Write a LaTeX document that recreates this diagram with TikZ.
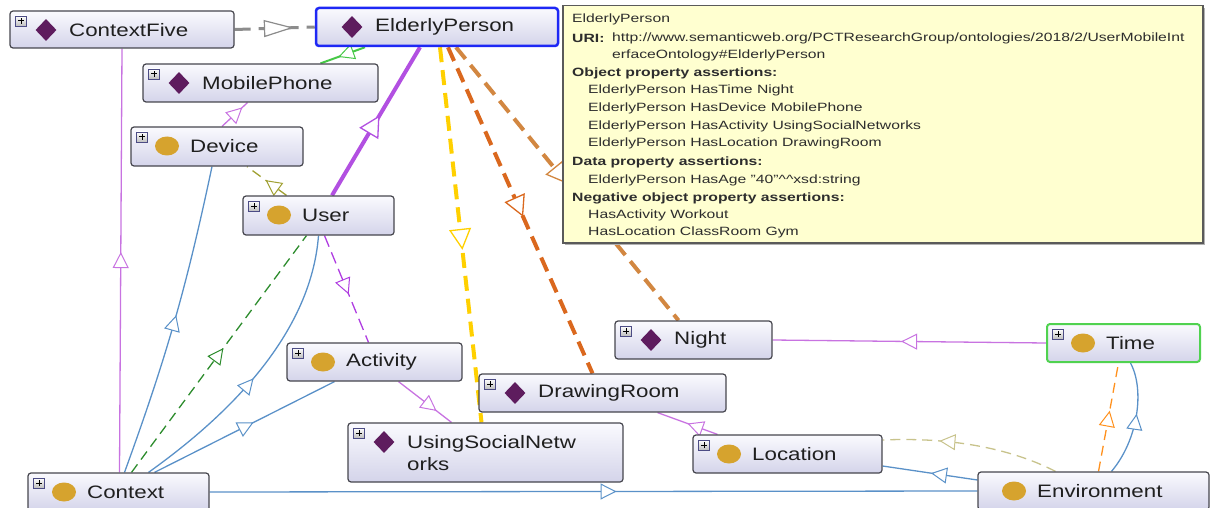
\documentclass[tikz,border=0pt]{standalone}
\usepackage{fontspec}
\setmainfont{Liberation Sans}
\usepackage{graphicx}
\usetikzlibrary{arrows.meta,shapes.geometric,decorations.markings,backgrounds}

% palette
\definecolor{nodeTop}{RGB}{250,250,254}
\definecolor{nodeBot}{RGB}{212,212,234}
\definecolor{nodeBorder}{RGB}{70,70,78}
\definecolor{diaPurple}{RGB}{94,28,94}
\definecolor{dotGold}{RGB}{214,163,46}
\definecolor{epBlue}{RGB}{30,40,245}
\definecolor{timeGreen}{RGB}{80,210,80}
\definecolor{tipYellow}{RGB}{255,255,208}
\definecolor{tipBorder}{RGB}{90,90,90}
\definecolor{tipText}{RGB}{45,45,45}
\definecolor{linkGray}{RGB}{140,140,140}
\definecolor{linkGreen}{RGB}{70,200,70}
\definecolor{linkPurple}{RGB}{178,80,225}
\definecolor{linkYellow}{RGB}{255,208,0}
\definecolor{linkOrange}{RGB}{218,104,30}
\definecolor{linkTan}{RGB}{210,135,65}
\definecolor{linkViolet}{RGB}{200,115,225}
\definecolor{linkDashViolet}{RGB}{175,60,225}
\definecolor{linkBlue}{RGB}{90,145,200}
\definecolor{linkDarkGreen}{RGB}{45,140,45}
\definecolor{linkOlive}{RGB}{160,160,50}
\definecolor{linkKhaki}{RGB}{200,195,140}
\definecolor{linkAmber}{RGB}{255,145,30}

\newcommand\onodefont{\fontsize{18}{22}\selectfont}
\newcommand\tipfont{\fontsize{12}{14}\selectfont}
\newcommand\wide[1]{\scalebox{1.24}[1]{#1}}
\newcommand\tw[1]{\scalebox{1.31}[1]{#1}}

\tikzset{
  tipS/.tip={Triangle[fill=white,length=16pt,width=16pt,line width=1pt]},
  tipL/.tip={Triangle[fill=white,length=21pt,width=22pt,line width=1.3pt]},
  tipG/.tip={Triangle[fill=white,length=30pt,width=17pt,line width=1.2pt]},
  mid/.style 2 args={postaction={decorate,decoration={markings,
      mark=at position #1 with {\arrow{#2}}}}},
  obox/.style={rectangle,rounded corners=3pt,draw=nodeBorder,line width=1.2pt,
      top color=nodeTop,bottom color=nodeBot,inner sep=0pt},
  epframe/.style={draw=epBlue,line width=2.5pt},
  timeframe/.style={draw=timeGreen,line width=2pt},
  dia/.style={diamond,fill=diaPurple,inner sep=0pt,minimum width=21pt,minimum height=22pt},
  dot/.style={ellipse,fill=dotGold,inner sep=0pt,minimum width=24pt,minimum height=19pt},
  olabel/.style={anchor=west,inner sep=0pt,font=\onodefont,text=black!88},
  plusbox/.style={rectangle,draw=black!45!blue!40!gray,line width=0.6pt,
      top color=white,bottom color=black!25,minimum width=11pt,minimum height=10pt,
      inner sep=0pt,
      path picture={\draw[line width=1pt,black]
        ([xshift=-3pt]path picture bounding box.center)--([xshift=3pt]path picture bounding box.center)
        ([yshift=-3pt]path picture bounding box.center)--([yshift=3pt]path picture bounding box.center);}},
  tipbox/.style={rectangle,fill=tipYellow,draw=tipBorder,line width=1.5pt,inner sep=0pt},
  tt/.style={anchor=west,inner sep=0pt,text=tipText,font=\tipfont},
  thin link/.style={line width=1.3pt},
  heavy link/.style={line width=4pt,dash pattern=on 15pt off 8pt},
}

% class / individual box: name, extra style, x1, y1, x2, y2, icon style, label
\newcommand\onto[8]{%
  \node[obox,#2,minimum width=#5pt-#3pt,minimum height=#6pt-#4pt] (#1) at ({(#3+#5)/2},{(#4+#6)/2}) {};
  \node[#7] (#1-icon) at (#3+36,#4+19) {};
  \node[olabel] (#1-label) at (#3+59,#4+19) {\wide{#8}};
}
\newcommand\plusicon[3]{\node[plusbox] (#1-plus) at (#2+11,#3+10) {};}

\begin{document}
\begin{tikzpicture}[x=1pt,y=-1pt]
\useasboundingbox (0,0) rectangle (1210,508);
\clip (0,0) rectangle (1210,508);

% ---- boxes ----
\onto{C5}{}{10}{11}{234}{48}{dia}{ContextFive}\plusicon{C5}{10}{11}
\onto{EP}{epframe}{316}{8}{558}{46}{dia}{ElderlyPerson}
\onto{MP}{}{143}{64}{378}{102}{dia}{MobilePhone}\plusicon{MP}{143}{64}
\onto{Dev}{}{131}{127}{303}{166}{dot}{Device}\plusicon{Dev}{131}{127}
\onto{User}{}{243}{196}{394}{235}{dot}{User}\plusicon{User}{243}{196}
\onto{Act}{}{287}{343}{462}{381}{dot}{Activity}\plusicon{Act}{287}{343}
\onto{DR}{}{479}{374}{726}{412}{dia}{DrawingRoom}\plusicon{DR}{479}{374}
\node[obox,minimum width=275pt,minimum height=59pt] (USN) at (485.5,452.5) {};
\node[dia] (USN-icon) at (384,442) {};
\node[olabel,anchor=north west,align=left,font=\fontsize{18}{22}\selectfont] (USN-label) at (407,435) {\wide{UsingSocialNetw}\\\wide{orks}};
\plusicon{USN}{348}{423}
\onto{Night}{}{615}{321}{772}{359}{dia}{Night}\plusicon{Night}{615}{321}
\onto{Time}{timeframe}{1047}{324}{1200}{362}{dot}{Time}\plusicon{Time}{1047}{324}
\onto{Loc}{}{693}{435}{882}{473}{dot}{Location}\plusicon{Loc}{693}{435}
\onto{Ctx}{}{28}{473}{209}{511}{dot}{Context}\plusicon{Ctx}{28}{473}
\onto{Env}{}{978}{472}{1209}{510}{dot}{Environment}

% ---- connectors ----
\begin{scope}[on background layer]
  \draw[linkGray,line width=3pt,dash pattern=on 16pt off 8pt,mid={0.74}{tipG}] (C5.east) -- (EP.west);
  \draw[linkGreen,line width=2pt,mid={0.6}{tipS}] ([xshift=-72pt]EP.south) -- ([xshift=60pt]MP.north);
  \draw[linkPurple,line width=4pt,mid={0.54}{tipL}] ([xshift=13.5pt]User.north) -- ([xshift=-17pt]EP.south);
  \draw[linkYellow,heavy link,mid={0.54}{tipL}] ([xshift=3pt]EP.south) -- ([xshift=-4pt]USN.north);
  \draw[linkOrange,heavy link,mid={0.52}{tipL}] ([xshift=11pt]EP.south) -- ([xshift=-10pt]DR.north);
  \draw[linkTan,heavy link,mid={0.5}{tipL}] ([xshift=19pt]EP.south) -- ([xshift=-15pt]Night.north);
  \draw[linkViolet,thin link,mid={0.8}{tipS}] ([xshift=5pt]Dev.north) -- ([xshift=-13pt]MP.south);
  \draw[linkOlive,thin link,dash pattern=on 10pt off 6pt,mid={0.53}{tipS}] ([xshift=-32pt]User.north) -- ([xshift=30pt]Dev.south);
  \draw[linkViolet,thin link,mid={0.52}{tipS}] ([xshift=1pt]Ctx.north) -- (C5.south);
  \draw[linkBlue,thin link,mid={0.52}{tipS}] ([xshift=6pt]Ctx.north) to[bend right=4] ([xshift=-5pt]Dev.south);
  \draw[linkDarkGreen,thin link,dash pattern=on 10pt off 6pt,mid={0.525}{tipS}] ([xshift=13pt]Ctx.north) -- ([xshift=-12pt]User.south);
  \draw[linkBlue,thin link,mid={0.47}{tipS}] ([xshift=30pt]Ctx.north) .. controls (250,400) and (312,320) .. (User.south);
  \draw[linkBlue,thin link,mid={0.55}{tipS}] ([xshift=36pt]Ctx.north) -- ([xshift=-40pt]Act.south);
  \draw[linkBlue,thin link,mid={0.53}{tipS}] (Ctx.east) -- (Env.west);
  \draw[linkDashViolet,thin link,dash pattern=on 12pt off 6pt,mid={0.55}{tipS}] ([xshift=6pt]User.south) -- ([xshift=-6pt]Act.north);
  \draw[linkViolet,thin link,mid={0.72}{tipS}] ([xshift=24pt]Act.south) -- ([xshift=-34pt]USN.north);
  \draw[linkViolet,thin link,mid={0.5}{tipS}] ([xshift=-70pt]Loc.north) -- ([xshift=55pt]DR.south);
  \draw[linkViolet,thin link,mid={0.53}{tipS}] (Time.west) -- (Night.east);
  \draw[linkBlue,thin link,mid={0.49}{tipS}] ([yshift=11pt]Env.west) -- ([yshift=-12pt]Loc.east);
  \draw[linkKhaki,thin link,dash pattern=on 10pt off 6pt,mid={0.68}{tipS}] ([xshift=-38pt]Env.north) .. controls (1010,448) and (950,437) .. ([yshift=14pt]Loc.east);
  \draw[linkAmber,thin link,dash pattern=on 10pt off 6pt,mid={0.56}{tipS}] ([xshift=5pt]Env.north) -- ([xshift=-5pt]Time.south);
  \draw[linkBlue,thin link,mid={0.55}{tipS}] ([xshift=18pt]Env.north) .. controls (1138,440) and (1145,390) .. ([xshift=7pt]Time.south);
\end{scope}

% ---- annotation panel ----
\fill[black!30] (565,8) rectangle (1205,245);
\node[tipbox,minimum width=640pt,minimum height=237pt,anchor=north west] (tip) at (562,5) {};
\node[tt] (tt1) at (572,19) {\tw{ElderlyPerson}};
\node[tt] (tt2) at (572,38) {\tw{\textbf{URI:}}};
\node[tt] (tt2b) at (612,38) {\tw{http://www.semanticweb.org/PCTResearchGroup/ontologies/2018/2/UserMobileInt}};
\node[tt] (tt3) at (612,55) {\tw{erfaceOntology\#ElderlyPerson}};
\node[tt] (tt4) at (572,73) {\tw{\textbf{Object property assertions:}}};
\node[tt] (tt5) at (588,90) {\tw{ElderlyPerson HasTime Night}};
\node[tt] (tt6) at (588,108) {\tw{ElderlyPerson HasDevice MobilePhone}};
\node[tt] (tt7) at (588,126) {\tw{ElderlyPerson HasActivity UsingSocialNetworks}};
\node[tt] (tt8) at (588,143) {\tw{ElderlyPerson HasLocation DrawingRoom}};
\node[tt] (tt9) at (572,162) {\tw{\textbf{Data property assertions:}}};
\node[tt] (tt10) at (588,180) {\tw{ElderlyPerson HasAge "40"\textasciicircum\textasciicircum xsd:string}};
\node[tt] (tt11) at (572,198) {\tw{\textbf{Negative object property assertions:}}};
\node[tt] (tt12) at (588,215) {\tw{HasActivity Workout}};
\node[tt] (tt13) at (588,232) {\tw{HasLocation ClassRoom Gym}};
\end{tikzpicture}
\end{document}
